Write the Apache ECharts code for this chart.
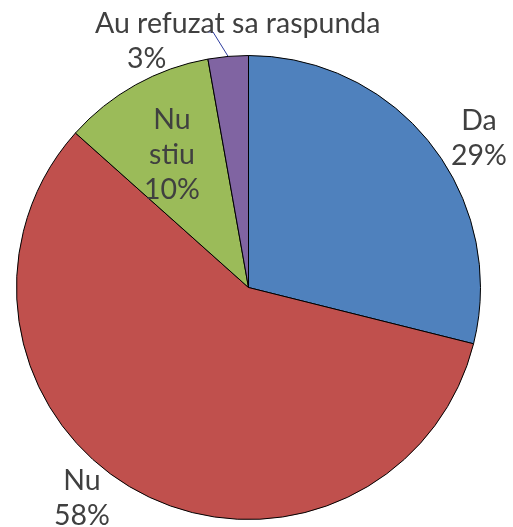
<!DOCTYPE html>
<html>
<head>
<meta charset="utf-8">
<script src="https://cdn.jsdelivr.net/npm/echarts@6/dist/echarts.min.js"></script>
<style>
  html, body { margin: 0; padding: 0; background: #ffffff; }
  #chart { width: 513px; height: 527px; }
</style>
</head>
<body>
<div id="chart"></div>
<script>
const categories = ['Da', 'Nu', 'Nu stiu', 'Au refuzat sa raspunda']
const shares = [28.9, 57.7, 10.6, 2.8]
const percentLabels = ['29%', '58%', '10%', '3%']
const sliceColors = ['#4F81BD', '#C0504D', '#9BBB59', '#8064A2']

// where each label block sits (Excel put them by hand)
const labelSpots = [
  { x: 479, y: 138, align: 'center' },
  { x: 82, y: 498, align: 'center' },
  { x: 172, y: 155, align: 'center' },
  { x: 95, y: 41, align: 'left' }
]

const textColor = '#404040'
const fontFamily = 'Lato, "Liberation Sans", sans-serif'
const fontSize = 28.5

const chart = echarts.init(document.getElementById('chart'), null, { renderer: 'canvas' })

const labelText = (p) => {
  const i = p.dataIndex
  if (i === 3) return '{t|' + categories[i] + '}\n{p|' + percentLabels[i] + '}'
  if (i === 2) return 'Nu\nstiu\n' + percentLabels[i]
  return categories[i] + '\n' + percentLabels[i]
}

const option = {
  animation: false,
  series: [
    {
      type: 'pie',
      center: [248.5, 287.5],
      radius: 232,
      startAngle: 90,
      clockwise: true,
      avoidLabelOverlap: false,
      itemStyle: { borderColor: '#000000', borderWidth: 1 },
      label: {
        show: true,
        position: 'outside',
        formatter: labelText,
        color: textColor,
        fontFamily: fontFamily,
        fontSize: fontSize,
        lineHeight: 35,
        rich: {
          t: { color: textColor, fontFamily: fontFamily, fontSize: fontSize, lineHeight: 35 },
          p: { color: textColor, fontFamily: fontFamily, fontSize: fontSize, lineHeight: 35, padding: [0, 0, 0, 32] }
        }
      },
      labelLine: { show: false },
      labelLayout: (params) => {
        const spot = labelSpots[params.dataIndex]
        const out = { x: spot.x, y: spot.y, align: spot.align, verticalAlign: 'middle' }
        if (params.dataIndex === 3 && params.labelLinePoints) {
          const start = params.labelLinePoints[0]
          out.labelLinePoints = [start, [213, 32], [208, 32]]
        }
        return out
      },
      emphasis: { disabled: true },
      data: categories.map((name, i) => ({
        name: name,
        value: shares[i],
        itemStyle: { color: sliceColors[i] },
        labelLine: i === 3
          ? { show: true, length: 10, length2: 5, lineStyle: { color: '#2E3C9E', width: 1 } }
          : { show: false }
      }))
    }
  ]
}

chart.setOption(option)
</script>
</body>
</html>
